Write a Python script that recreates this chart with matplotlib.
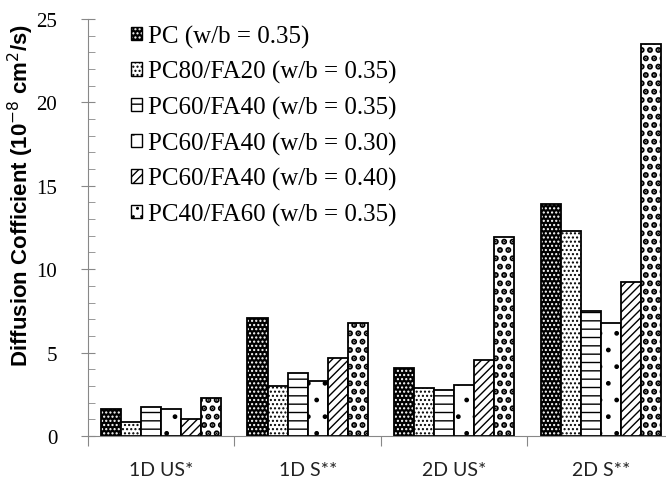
import matplotlib
matplotlib.use("Agg")
import matplotlib.pyplot as plt
import numpy as np
from matplotlib.ticker import MultipleLocator
from matplotlib.patches import Patch
from matplotlib.legend_handler import HandlerTuple

groups = ["1D US*", "1D S**", "2D US*", "2D S**"]
series = [
    "PC (w/b = 0.35)",
    "PC80/FA20 (w/b = 0.35)",
    "PC60/FA40 (w/b = 0.35)",
    "PC60/FA40 (w/b = 0.30)",
    "PC60/FA40 (w/b = 0.40)",
    "PC40/FA60 (w/b = 0.35)",
]
pc_035 = [1.6, 7.1, 4.1, 13.9]
pc80_035 = [0.85, 3.0, 2.85, 12.3]
pc60_035 = [1.75, 3.8, 2.75, 7.5]
pc60_030 = [1.6, 3.3, 3.05, 6.8]
pc60_040 = [1.0, 4.65, 4.55, 9.2]
pc40_035 = [2.3, 6.75, 11.9, 23.5]
values = [pc_035, pc80_035, pc60_035, pc60_030, pc60_040, pc40_035]

# (face, hatch colour, hatch, hatch linewidth)
styles = [
    ("black", "white", "....", 1.0),
    ("white", "black", "....", 1.0),
    ("white", "black", "--", 1.0),
    ("white", "black", ".", 1.0),
    ("white", "black", "////", 1.0),
    ("white", "black", "..", 3.0),
]

fig = plt.figure(figsize=(6.66, 4.85), dpi=100)
ax = fig.add_axes([0.132, 0.099, 0.88, 0.86])

x = np.arange(len(groups))
w = 0.137
handles = []
for i, (vals, (fc, hc, h, hlw)) in enumerate(zip(values, styles)):
    pos = x + (i - 2.5) * w
    with plt.rc_context({"hatch.linewidth": hlw}):
        ax.bar(pos, vals, w, color=fc, edgecolor=hc, hatch=h, linewidth=0)
        hp = Patch(facecolor=fc, edgecolor=hc, hatch=h, linewidth=0)
    ax.bar(pos, vals, w, fill=False, edgecolor="black", linewidth=1.3)
    handles.append((hp, Patch(fill=False, edgecolor="black", linewidth=1)))

ax.set_xlim(-0.5, 3.5)
ax.set_ylim(0, 25)
ax.yaxis.set_major_locator(MultipleLocator(5))
ax.yaxis.set_minor_locator(MultipleLocator(1))
ax.set_xticks([-0.5, 0.5, 1.5, 2.5])
ax.set_xticklabels([])
ax.set_xticks(x, minor=True)
ax.set_xticklabels(groups, minor=True, fontsize=14, color="#222222",
                   family="Lato")
ax.tick_params(axis="x", which="minor", length=0, pad=18)
ax.tick_params(axis="x", which="major", length=7, color="#888888")
ax.tick_params(axis="y", which="major", direction="inout", length=10,
               color="#888888", labelsize=15, pad=17)
ax.tick_params(axis="y", which="minor", direction="in", length=5,
               color="#888888")
for lab in ax.get_yticklabels():
    lab.set_fontfamily("Liberation Serif")

for s in ["top", "right"]:
    ax.spines[s].set_visible(False)
for s in ["left", "bottom"]:
    ax.spines[s].set_color("#888888")

ax.set_ylabel("Diffusion Cofficient (10$^{-8}$ cm$^{2}$/s)", fontsize=16,
              fontweight="bold", family="Liberation Sans")
ax.yaxis.set_label_coords(-0.088, 0.58)

ax.legend(handles, series, loc="upper left", bbox_to_anchor=(0.035, 1.04),
          frameon=False, prop={"family": "Liberation Serif", "size": 18},
          handlelength=0.45, handleheight=0.45, handletextpad=0.25,
          labelspacing=0.5, handler_map={tuple: HandlerTuple(ndivide=1)})

fig.savefig("out.png", dpi=100)
